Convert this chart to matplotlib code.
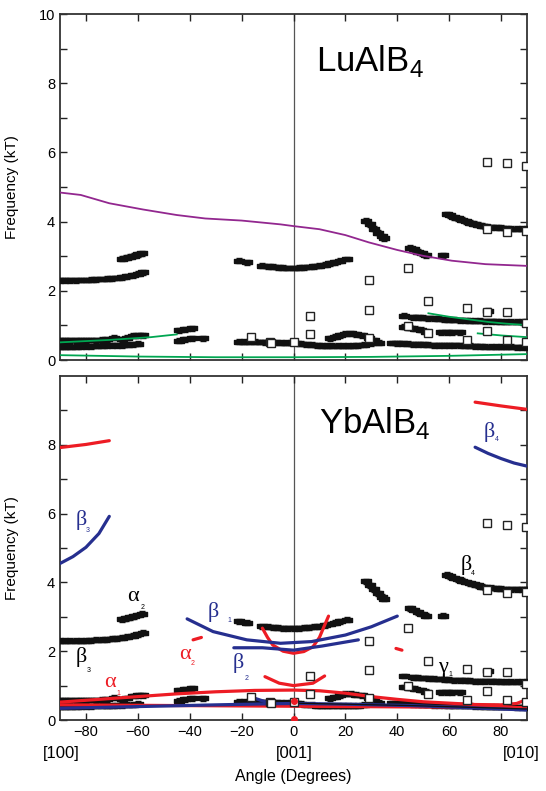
import matplotlib
matplotlib.use("Agg")
import matplotlib.pyplot as plt
import numpy as np

plt.rcParams['font.family'] = ['Liberation Sans', 'DejaVu Sans']
plt.rcParams['mathtext.fontset'] = 'custom'
plt.rcParams['mathtext.rm'] = 'Liberation Sans'

# ---------------- measured dHvA data (shared by both panels) ----------------
data_series = [
    # left lower band
    ([-90, -88, -86, -84, -82, -80, -78, -76, -74, -72, -70, -68, -66, -64, -62, -60, -58],
     [2.30, 2.30, 2.30, 2.30, 2.31, 2.31, 2.32, 2.33, 2.34, 2.35, 2.36, 2.37, 2.39, 2.42, 2.45, 2.49, 2.54]),
    # left upper short band
    ([-66, -64.5, -63, -61.5, -60, -58.5], [2.93, 2.96, 2.99, 3.02, 3.05, 3.09]),
    ([-21, -18], [2.87, 2.83]),
    # centre band
    ([-12, -10, -8, -6, -4, -2, 0, 2, 4, 6, 8, 10, 12, 14, 16, 18, 20.5],
     [2.72, 2.71, 2.70, 2.68, 2.67, 2.66, 2.66, 2.67, 2.68, 2.69, 2.71, 2.72, 2.75, 2.79, 2.83, 2.87, 2.92]),
    # diagonal group
    ([28, 29.5, 31, 32.5, 34, 35], [4.03, 3.92, 3.80, 3.68, 3.58, 3.52]),
    ([45, 46.5, 48, 49.5, 51, 57.5], [3.25, 3.20, 3.13, 3.08, 3.03, 3.03]),
    # beta4 branch
    ([59, 60.5, 62, 63.5, 65, 66.5, 68, 69.5, 71, 72.5, 74, 76, 78, 80, 82, 84, 86, 88, 90],
     [4.22, 4.18, 4.13, 4.09, 4.05, 4.01, 3.97, 3.94, 3.91, 3.88, 3.86, 3.84, 3.83, 3.82, 3.81, 3.80, 3.80, 3.80, 3.80]),
    # low-frequency left bands
    ([-90, -88, -86, -84, -82, -80, -78, -76, -74, -72, -69, -66, -64, -62, -60, -58],
     [0.57, 0.57, 0.57, 0.57, 0.57, 0.57, 0.58, 0.58, 0.59, 0.60, 0.65, 0.60, 0.64, 0.70, 0.72, 0.72]),
    ([-90, -88, -86, -84, -82, -80, -78, -76, -74, -72, -70, -68, -66, -64, -62, -60],
     [0.38, 0.38, 0.39, 0.39, 0.40, 0.40, 0.40, 0.41, 0.41, 0.42, 0.42, 0.43, 0.43, 0.44, 0.45, 0.47]),
    ([-44, -42, -39], [0.86, 0.89, 0.92]),
    ([-44, -42, -39, -35], [0.56, 0.60, 0.63, 0.63]),
    # centre low band
    ([-21, -19, -17, -15, -13, -11, -9, -7, -5, -3, -1, 1, 3, 5, 7, 9, 11, 13, 15, 17, 19, 21, 23, 25, 27,
      30, 33, 38, 40, 42, 44, 46, 48, 50, 52, 54, 56, 58, 60, 62, 64, 66, 68, 70, 72, 74, 76, 78, 80, 82,
      84, 86, 88, 90],
     [0.53, 0.53, 0.53, 0.53, 0.52, 0.51, 0.51, 0.51, 0.50, 0.50, 0.50, 0.49, 0.47, 0.45, 0.44, 0.42,
      0.41, 0.41, 0.41, 0.41, 0.41, 0.41, 0.41, 0.42, 0.44, 0.48, 0.50, 0.49, 0.48, 0.48, 0.47, 0.46,
      0.46, 0.45, 0.44, 0.43, 0.43, 0.43, 0.42, 0.42, 0.42, 0.41, 0.41, 0.40, 0.40, 0.39, 0.39, 0.39,
      0.38, 0.38, 0.38, 0.37, 0.37, 0.37]),
    ([14, 16, 18, 20, 22, 24, 26.5, 29, 31], [0.63, 0.67, 0.72, 0.76, 0.77, 0.74, 0.72, 0.64, 0.58]),
    # gamma1 band
    ([42.5, 46, 48, 50, 52, 54, 56, 58, 60, 62, 64, 66, 68, 70, 72, 74, 76, 78, 80, 82, 84, 86, 88, 90],
     [1.28, 1.24, 1.23, 1.22, 1.21, 1.20, 1.19, 1.18, 1.17, 1.16, 1.15, 1.15, 1.14, 1.13, 1.13, 1.12,
      1.12, 1.12, 1.11, 1.11, 1.11, 1.11, 1.11, 1.11]),
    ([42.5, 45, 47, 49, 51, 57, 59, 61, 64], [0.96, 0.93, 0.91, 0.87, 0.82, 0.80, 0.80, 0.80, 0.80]),
    ([75], [1.42]),
]

# ---------------- calculated frequencies (open squares) ----------------
sq_angle = [74.7, 82.4, 89.5, 74.7, 82.4, 89.5, 44.3, 29, 29, 52, 6.2, 6.2, 44, 52, 67, 74.7,
            82.4, 74.7, 82.4, 67, 89.5, 89.5, 29, -9.2, 0, -16.3, -8.6]
sq_freq = [5.73, 5.68, 5.62, 3.78, 3.69, 3.73, 2.67, 2.31, 1.45, 1.71, 1.27, 0.75, 0.99, 0.77, 1.49, 1.40,
           1.40, 0.84, 0.58, 0.58, 0.51, 1.06, 0.63, 0.51, 0.53, 0.67, 0.48]

# ---------------- LuAlB4 band calculation ----------------
purple_a = [-90, -82, -71, -58, -45, -34, -20, -5, 0, 10, 20, 29, 40, 50, 61, 74, 90]
purple_f = [4.84, 4.77, 4.53, 4.35, 4.19, 4.09, 4.03, 3.92, 3.87, 3.78, 3.61, 3.40, 3.18, 3.01, 2.87, 2.77, 2.72]
green1_a = [-90, -60, -30, 0, 30, 60, 90]
green1_f = [0.14, 0.10, 0.08, 0.08, 0.09, 0.12, 0.17]
green2_a = [-90, -71, -55, -45]
green2_f = [0.51, 0.58, 0.66, 0.74]
green3_a = [52, 60, 67, 75, 82, 90]
green3_f = [1.35, 1.25, 1.18, 1.10, 1.05, 1.01]
green4_a = [71, 80, 90]
green4_f = [0.77, 0.71, 0.66]

# ---------------- YbAlB4 band calculation ----------------
red_top_l_a = [-90, -80, -71]
red_top_l_f = [7.92, 8.01, 8.12]
red_top_r_a = [70, 80, 90]
red_top_r_f = [9.24, 9.13, 9.03]
blue_b3_a = [-90, -85, -80, -75, -71]
blue_b3_f = [4.55, 4.75, 5.02, 5.42, 5.92]
blue_b4_a = [70, 75, 80, 85, 90]
blue_b4_f = [7.93, 7.75, 7.60, 7.47, 7.38]
blue_b1_a = [-41, -31, -18, -5, 7, 20, 30, 40]
blue_b1_f = [2.94, 2.57, 2.33, 2.23, 2.28, 2.47, 2.71, 3.02]
blue_b2_a = [-23, -12, 0, 11, 25]
blue_b2_f = [2.10, 2.10, 2.03, 2.15, 2.33]
red_u1_a = [-12, -10, -8, -4, 0, 4, 7.5, 10, 11.5, 13.5]
red_u1_f = [2.67, 2.40, 2.18, 2.00, 1.94, 1.99, 2.13, 2.40, 2.67, 3.02]
red_u2_a = [-11, -5.5, 0, 7.5, 12]
red_u2_f = [1.26, 1.07, 1.00, 1.07, 1.28]
red_a2l_a = [-38.7, -35.5]
red_a2l_f = [2.33, 2.40]
red_a2r_a = [39.5, 41.8]
red_a2r_f = [2.08, 2.03]
red_a1_a = [-90, -75, -60, -45, -30, -15, 0, 10, 20, 30, 40, 50, 60, 70, 80, 86, 90]
red_a1_f = [0.52, 0.60, 0.68, 0.76, 0.82, 0.86, 0.87, 0.85, 0.78, 0.68, 0.60, 0.53, 0.49, 0.45, 0.44, 0.48, 0.60]
red_low_a = [-90, -45, 0, 45, 90]
red_low_f = [0.44, 0.42, 0.40, 0.38, 0.36]
blue_low_a = [-90, -60, -30, -10, 0, 20, 45, 70, 90]
blue_low_f = [0.34, 0.39, 0.44, 0.47, 0.48, 0.46, 0.42, 0.35, 0.29]
blue_spur_a = [-16.9, -9.2]
blue_spur_f = [0.68, 0.49]
black_low_a = [0, 45, 90]
black_low_f = [0.49, 0.42, 0.32]
red_dot_a = [0, 0]
red_dot_f = [0.56, 0.03]

RED = '#ed1c24'
BLUE = '#262f8f'
PURPLE = '#92278f'
GREEN = '#00a651'

W, H = 546, 791
fig = plt.figure(figsize=(W / 100, H / 100), dpi=100)
axL = 60 / W
axW = (527 - 60) / W
ax1 = fig.add_axes([axL, 1 - 360 / H, axW, (360 - 14) / H])
ax2 = fig.add_axes([axL, 1 - 720 / H, axW, (720 - 376) / H])

# wide rectangular marker for the measured points
BAR = [(-1.5, -0.8), (1.5, -0.8), (1.5, 0.8), (-1.5, 0.8), (-1.5, -0.8)]


def style(ax, top):
    ax.set_xlim(-90, 90)
    ax.set_ylim(0, 10)
    ax.set_xticks([-80, -60, -40, -20, 0, 20, 40, 60, 80])
    if top:
        ax.set_yticks([0, 2, 4, 6, 8, 10])
        ax.tick_params(axis='x', labelbottom=False)
    else:
        ax.set_yticks([0, 2, 4, 6, 8])
    ax.set_yticks([1, 3, 5, 7, 9], minor=True)
    ax.tick_params(which='both', direction='in', top=True, right=True, labelsize=10.5,
                   color='#222222', width=1.0)
    ax.tick_params(which='major', length=5)
    ax.tick_params(which='minor', length=5)
    for s in ax.spines.values():
        s.set_linewidth(1.3)
        s.set_color('#333333')
    ax.axvline(0, color='#555555', lw=0.9, zorder=1)
    ax.set_ylabel('Frequency (kT)', fontsize=11)
    ax.yaxis.set_label_coords(-0.088, 0.5)


def draw_data(ax):
    for a, f in data_series:
        ax.errorbar(a, f, yerr=0.07, fmt='none', ecolor='#111111',
                    capsize=2.2, elinewidth=1.0, capthick=1.0, zorder=4)
        ax.plot(a, f, linestyle='none', marker=BAR, ms=6.5, color='#111111', mec='#111111', zorder=4)
    ax.plot(sq_angle, sq_freq, 's', ms=6, mfc='white', mec='#222222', mew=1.0, zorder=6)


style(ax1, True)
style(ax2, False)

# top panel
ax1.plot(purple_a, purple_f, color=PURPLE, lw=1.3, zorder=5)
for a, f in [(green1_a, green1_f), (green2_a, green2_f), (green3_a, green3_f), (green4_a, green4_f)]:
    ax1.plot(a, f, color=GREEN, lw=1.3, zorder=5)
draw_data(ax1)
ax1.text(8.7, 8.36, r'LuAlB$_{4}$', fontsize=25, ha='left', va='baseline')

# bottom panel
draw_data(ax2)
lw = 2.3
for a, f in [(red_top_l_a, red_top_l_f), (red_top_r_a, red_top_r_f), (red_u1_a, red_u1_f),
             (red_u2_a, red_u2_f), (red_a2l_a, red_a2l_f), (red_a2r_a, red_a2r_f),
             (red_a1_a, red_a1_f), (red_low_a, red_low_f)]:
    ax2.plot(a, f, color=RED, lw=lw, solid_capstyle='round', zorder=5)
for a, f in [(blue_b3_a, blue_b3_f), (blue_b4_a, blue_b4_f), (blue_b1_a, blue_b1_f),
             (blue_b2_a, blue_b2_f), (blue_low_a, blue_low_f), (blue_spur_a, blue_spur_f)]:
    ax2.plot(a, f, color=BLUE, lw=lw, solid_capstyle='round', zorder=5)
ax2.plot(black_low_a, black_low_f, color='#111111', lw=0.9, zorder=5)
ax2.plot(red_dot_a, red_dot_f, 'o', color=RED, ms=4, zorder=7)
ax2.text(10, 8.33, r'YbAlB$_{4}$', fontsize=25, ha='left', va='baseline')

# band labels
labels = [
    ('β', '3', -81.9, 5.81, -79.5, 5.52, BLUE),
    ('α', '2', -61.9, 3.58, -58.2, 3.26, 'black'),
    ('β', '3', -81.7, 1.84, -79.1, 1.45, 'black'),
    ('α', '1', -70.8, 1.08, -67.3, 0.78, RED),
    ('β', '1', -31.0, 3.15, -24.6, 2.89, BLUE),
    ('α', '2', -41.9, 1.89, -38.7, 1.65, RED),
    ('β', '2', -21.4, 1.65, -18.2, 1.22, BLUE),
    ('β', '4', 75.4, 8.38, 78.2, 8.14, BLUE),
    ('β', '4', 66.4, 4.51, 69.2, 4.26, 'black'),
    ('γ', '1', 57.7, 1.52, 60.4, 1.31, 'black'),
]
for g, sub, x, y, sx, sy, c in labels:
    ax2.text(x, y, g, fontsize=16, color=c, ha='center', va='center',
             family=['Liberation Serif', 'DejaVu Serif'], zorder=8)
    ax2.text(sx, sy, sub, fontsize=5, color=c, ha='center', va='center', zorder=8)

ax2.set_xlabel('Angle (Degrees)', fontsize=11.5)
ax2.xaxis.set_label_coords(0.5, -0.142)
ax2.text(0.002, -0.096, '[100]', transform=ax2.transAxes, ha='center', va='center', fontsize=12)
ax2.text(0.501, -0.096, '[001]', transform=ax2.transAxes, ha='center', va='center', fontsize=12)
ax2.text(0.987, -0.096, '[010]', transform=ax2.transAxes, ha='center', va='center', fontsize=12)

fig.savefig('out.png', dpi=100)
